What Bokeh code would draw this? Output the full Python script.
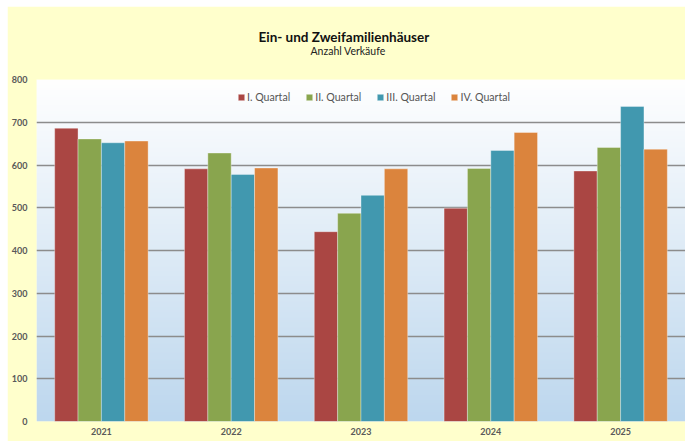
import numpy as np
from bokeh.plotting import figure
from bokeh.models import ColumnDataSource, FixedTicker, Title, FactorRange
from bokeh.transform import dodge
from bokeh.embed import file_html
from bokeh.resources import INLINE

years = ["2021", "2022", "2023", "2024", "2025"]
q1 = [686, 591, 444, 499, 586]
q2 = [661, 628, 487, 592, 641]
q3 = [652, 578, 529, 634, 737]
q4 = [656, 593, 591, 676, 637]
series_names = ["I. Quartal", "II. Quartal", "III. Quartal", "IV. Quartal"]
colors = ["#AA4643", "#89A54E", "#4198AF", "#DB843D"]
y_ticks = [0, 100, 200, 300, 400, 500, 600, 700, 800]
title_text = "Ein- und Zweifamilienhäuser"
subtitle_text = "Anzahl Verkäufe"

source = ColumnDataSource(dict(year=years, q1=q1, q2=q2, q3=q3, q4=q4))

FONT = "Lato"

p = figure(width=678, height=435, x_range=FactorRange(*years), y_range=(0, 800),
           output_backend="svg", toolbar_location=None,
           min_border_left=29, min_border_right=0, min_border_bottom=20, min_border_top=73)
p.margin = (6, 0, 0, 7)
p.background_fill_color = "#FFFFCC"
p.border_fill_color = "#FFFFCC"
p.outline_line_color = None

# vertical gradient in plot area
H = 342
t = np.linspace(0, 1, H)
top_c = np.array([255, 255, 255])
bot_c = np.array([189, 215, 238])
img = np.zeros((H, 1), dtype=np.uint32)
view = img.view(dtype=np.uint8).reshape((H, 1, 4))
for i in range(H):
    c = bot_c + (top_c - bot_c) * t[i]
    view[i, 0, 0] = int(c[0]); view[i, 0, 1] = int(c[1]); view[i, 0, 2] = int(c[2]); view[i, 0, 3] = 255
r_img = p.image_rgba(image=[img], x=0, y=0, dw=5, dh=800)
r_img.level = "image"

offsets = [-0.27, -0.09, 0.09, 0.27]
cols = ["q1", "q2", "q3", "q4"]
for col, off, c, name in zip(cols, offsets, colors, series_names):
    p.vbar(x=dodge("year", off, range=p.x_range), top=col, width=0.18, source=source,
           fill_color=c, line_color="white", line_alpha=0.35, line_width=1, legend_label=name)

p.xgrid.grid_line_color = None
p.ygrid.ticker = FixedTicker(ticks=y_ticks[1:])
p.ygrid.grid_line_color = "#8C8C8C"
p.ygrid.grid_line_width = 1.5

p.yaxis.ticker = FixedTicker(ticks=y_ticks)
for ax in (p.xaxis, p.yaxis):
    ax.axis_line_color = None
    ax.major_tick_line_color = None
    ax.minor_tick_line_color = None
    ax.major_tick_in = 0
    ax.major_tick_out = 0
    ax.major_label_text_font = FONT
    ax.major_label_text_font_size = "9px"
    ax.major_label_text_font_style = "bold"
    ax.major_label_text_color = "#595959"
p.yaxis.major_label_standoff = 9
p.xaxis.major_label_standoff = 6

p.legend.orientation = "horizontal"
p.legend.location = (201, 318)
p.legend.background_fill_alpha = 0
p.legend.border_line_color = None
p.legend.label_text_font = FONT
p.legend.label_text_font_size = "10.6px"
p.legend.label_text_color = "#555555"
p.legend.glyph_width = 8
p.legend.glyph_height = 8
p.legend.label_standoff = 2
p.legend.spacing = 15
p.legend.margin = 0
p.legend.padding = 4

p.add_layout(Title(text=subtitle_text, align="left", offset=274, text_font=FONT,
                   text_font_size="10.5px", text_font_style="normal", text_color="#222222",
                   standoff=45), "above")
p.add_layout(Title(text=title_text, align="left", offset=222, text_font=FONT,
                   text_font_size="13.5px", text_font_style="bold", text_color="#111111",
                   standoff=-48), "above")

open("out.html", "w").write(file_html(p, INLINE))
